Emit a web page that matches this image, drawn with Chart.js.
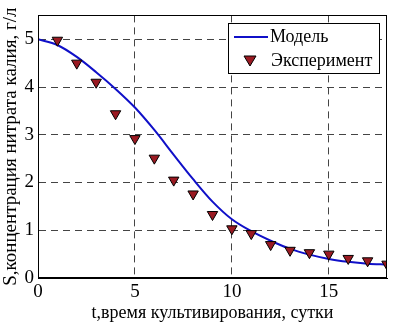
<!DOCTYPE html>
<html>
<head>
<meta charset="utf-8">
<script src="https://cdn.jsdelivr.net/npm/chart.js@4.4.1/dist/chart.umd.min.js"></script>
<style>
  html, body { margin: 0; padding: 0; background: #fff; }
  #wrap { width: 394px; height: 326px; }
</style>
</head>
<body>
<div id="wrap"><canvas id="myChart" width="394" height="326"></canvas></div>
<script>
// время, сутки
const days = [0, 1, 2, 3, 4, 5, 6, 7, 8, 9, 10, 11, 12, 13, 14, 15, 16, 17, 18];
// модель
const modelS = [5.0, 4.88, 4.63, 4.31, 3.96, 3.57, 3.1, 2.58, 2.07, 1.6, 1.23, 0.98, 0.78, 0.61, 0.49, 0.4, 0.34, 0.3, 0.28];
// эксперимент
const expDays = [1, 2, 3, 4, 5, 6, 7, 8, 9, 10, 11, 12, 13, 14, 15, 16, 17, 18];
const expS = [4.98, 4.5, 4.1, 3.44, 2.92, 2.51, 2.05, 1.76, 1.33, 1.03, 0.93, 0.7, 0.58, 0.53, 0.5, 0.41, 0.36, 0.29];
const xTicks = [0, 5, 10, 15];
const yTicks = [0, 1, 2, 3, 4, 5];

const FONT = 'Liberation Serif';
const modelColor = '#1010c8';
const expColor = '#9a1a22';

function createLine(text, xs, ys) {
    return {
        label: text,
        data: xs.map((x, i) => ({ x: x, y: ys[i] })),
        borderColor: modelColor,
        borderWidth: 2,
        pointRadius: 0,
        cubicInterpolationMode: 'monotone',
        showLine: true,
        order: 2
    };
}

function createPoints(text, xs, ys) {
    return {
        label: text,
        data: xs.map((x, i) => ({ x: x, y: ys[i] })),
        showLine: false,
        pointStyle: 'triangle',
        rotation: 180,
        pointRadius: 6,
        backgroundColor: expColor,
        borderColor: '#000',
        borderWidth: 1,
        order: 1
    };
}

// рамка сверху/справа
const frame = {
    id: 'frame',
    afterDatasetsDraw(chart) {
        const ctx = chart.ctx;
        const a = chart.chartArea;
        ctx.save();
        ctx.strokeStyle = '#000';
        ctx.lineWidth = 1;
        ctx.strokeRect(Math.round(a.left) + 0.5, Math.round(a.top) + 0.5,
            Math.round(a.right - a.left) - 1, Math.round(a.bottom - a.top) - 1);
        ctx.restore();
    }
};

// легенда внутри области графика, как в MATLAB
const boxLegend = {
    id: 'boxLegend',
    afterDraw(chart) {
        const ctx = chart.ctx;
        const area = chart.chartArea;
        const w = 151, h = 50;
        const x0 = Math.round(area.right - 8 - w);
        const y0 = Math.round(area.top + 8);
        ctx.save();
        ctx.fillStyle = '#fff';
        ctx.fillRect(x0, y0, w, h);
        ctx.strokeStyle = '#000';
        ctx.lineWidth = 1;
        ctx.strokeRect(x0 + 0.5, y0 + 0.5, w, h);

        ctx.strokeStyle = modelColor;
        ctx.lineWidth = 2;
        ctx.beginPath();
        ctx.moveTo(x0 + 6, y0 + 14);
        ctx.lineTo(x0 + 40, y0 + 14);
        ctx.stroke();

        // треугольник вершиной вниз
        const cx = x0 + 22, cy = y0 + 37;
        ctx.fillStyle = expColor;
        ctx.strokeStyle = '#000';
        ctx.lineWidth = 1;
        ctx.beginPath();
        ctx.moveTo(cx - 6, cy - 4);
        ctx.lineTo(cx + 6, cy - 4);
        ctx.lineTo(cx, cy + 6);
        ctx.closePath();
        ctx.fill();
        ctx.stroke();

        ctx.fillStyle = '#000';
        ctx.font = '18px "' + FONT + '"';
        ctx.textBaseline = 'middle';
        ctx.fillText('Модель', x0 + 42, y0 + 14);
        ctx.fillText('Эксперимент', x0 + 43, y0 + 38);
        ctx.restore();
    }
};

function generateChart(data) {
    const ctx = document.getElementById('myChart');
    new Chart(ctx, {
        type: 'scatter',
        data: data,
        plugins: [frame, boxLegend],
        options: {
            responsive: false,
            animation: false,
            layout: { padding: { top: 11, right: 3, left: 0, bottom: 0 } },
            scales: {
                x: {
                    type: 'linear',
                    min: 0,
                    max: 18,
                    afterBuildTicks: s => { s.ticks = xTicks.map(v => ({ value: v })); },
                    afterFit: s => { s.height = 48; },
                    border: { display: true, color: '#000', width: 1, dash: [7, 5] },
                    grid: {
                        color: '#444',
                        lineWidth: 1,
                        drawTicks: false
                    },
                    ticks: {
                        color: '#000',
                        padding: 3,
                        maxRotation: 0,
                        font: { family: FONT, size: 19 }
                    },
                    title: {
                        display: true,
                        text: 't,время культивирования, сутки',
                        color: '#000',
                        padding: { top: 0, bottom: 2 },
                        font: { family: FONT, size: 18 }
                    }
                },
                y: {
                    min: 0,
                    max: 5.5,
                    afterBuildTicks: s => { s.ticks = yTicks.map(v => ({ value: v })); },
                    afterFit: s => { s.width = 38; },
                    border: { display: true, color: '#000', width: 1, dash: [7, 5] },
                    grid: {
                        color: '#444',
                        lineWidth: 1,
                        drawTicks: false
                    },
                    ticks: {
                        color: '#000',
                        padding: 4,
                        font: { family: FONT, size: 19 }
                    },
                    title: {
                        display: true,
                        text: 'S,концентрация нитрата калия, г/л',
                        color: '#000',
                        padding: 0,
                        font: { family: FONT, size: 19 }
                    }
                }
            },
            plugins: {
                legend: { display: false },
                tooltip: { enabled: false }
            }
        }
    });
}

function getContext() {
    const data = {
        datasets: [
            createLine('Модель', days, modelS),
            createPoints('Эксперимент', expDays, expS)
        ]
    };
    generateChart(data);
}

getContext();
</script>
</body>
</html>
